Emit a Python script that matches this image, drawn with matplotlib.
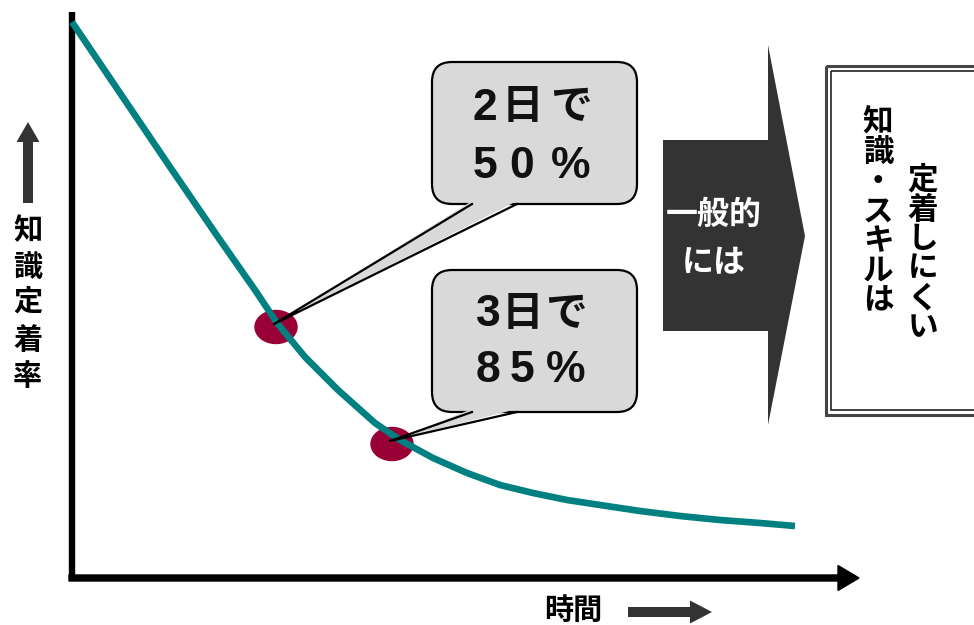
import matplotlib
matplotlib.use('Agg')
import matplotlib.pyplot as plt
from matplotlib.patches import Ellipse, Polygon, FancyBboxPatch, FancyArrow, Rectangle

plt.rcParams['font.family'] = ['Noto Sans CJK JP', 'DejaVu Sans']

# forgetting curve (canvas pixel units, y grows downward)
curve_x = [72, 120, 170, 220, 255, 277, 305, 338, 375, 400, 433, 467, 500, 533,
           567, 600, 640, 680, 720, 760, 795]
curve_y = [22, 93, 167, 240, 290, 323, 357, 390, 423, 440, 458, 473, 485, 493,
           500, 505, 511, 516, 520, 523, 526]

# highlighted points on the curve
point_x = [276, 392]
point_y = [327, 444]

# callouts
callout_lines = [['2日で', '50%'], ['3日で', '85%']]
y_label = '知識定着率'
x_label = '時間'
arrow_text = ['一般的', 'には']
box_columns = ['知識・スキルは', '定着しにくい']

TEAL = '#008080'
MAROON = '#990036'
DARK = '#333333'
GRAY = '#d9d9d9'

fig = plt.figure(figsize=(9.74, 6.25), dpi=100)
ax = fig.add_axes([0, 0, 1, 1])
ax.set_xlim(0, 974)
ax.set_ylim(625, 0)
ax.axis('off')

# axes lines
ax.plot([72, 72], [12, 580], color='black', lw=4.6, solid_capstyle='butt')
ax.add_patch(FancyArrow(69, 578, 790, 0, width=6, head_width=25, head_length=21,
                        length_includes_head=True, color='black'))

# y label with arrow
ax.add_patch(FancyArrow(28, 203, 0, -81, width=10, head_width=23, head_length=20,
                        length_includes_head=True, color=DARK, lw=0))
for i, ch in enumerate(y_label):
    ax.text(28, 230 + i * 36.5, ch, ha='center', va='center', fontsize=21,
            fontweight='bold', color='black')

# x label with arrow
ax.text(573, 610, x_label, ha='center', va='center', fontsize=21,
        fontweight='bold', color='black')
ax.add_patch(FancyArrow(628, 612, 84, 0, width=10, head_width=23, head_length=22,
                        length_includes_head=True, color=DARK, lw=0))

# the curve
ax.plot(curve_x, curve_y, color=TEAL, lw=4.8, solid_capstyle='butt',
        solid_joinstyle='round', zorder=3)

# points
for px, py in zip(point_x, point_y):
    ax.add_patch(Ellipse((px, py), 42, 33, color=MAROON, zorder=2))

# callout boxes with tails pointing at the points
box_tops = [62, 270]
box_h = [142, 142]
row_y = [[107, 165], [314, 370]]
char_x = [[485, 522, 571], [488, 522, 566]]
for k in range(2):
    top = box_tops[k]
    bottom = top + box_h[k]
    ax.add_patch(FancyBboxPatch((432, top), 205, box_h[k],
                                boxstyle='round,pad=0,rounding_size=20',
                                fc=GRAY, ec='black', lw=1.6, zorder=4))
    tip = (point_x[k] - 2, point_y[k] - 3)
    ax.add_patch(Polygon([(472, bottom - 3), (517, bottom - 3), tip],
                         closed=True, fc=GRAY, ec='none', zorder=5))
    ax.plot([472, tip[0], 517], [bottom, tip[1], bottom], color='black',
            lw=1.6, zorder=5)
    for r, line in enumerate(callout_lines[k]):
        for c, ch in enumerate(line):
            if ch.isascii():
                # wider latin digits, closer to the original
                ax.text(char_x[k][c], row_y[k][r] + 1, ch, ha='center', va='center',
                        fontsize=32, fontweight='bold', family=['Liberation Sans'],
                        color='#111111', zorder=6)
            else:
                ax.text(char_x[k][c], row_y[k][r], ch, ha='center', va='center',
                        fontsize=30, fontweight='bold', color='#111111', zorder=6)

# block arrow
ax.add_patch(Polygon([(663, 140), (768, 140), (768, 45), (805, 236),
                      (768, 425), (768, 331), (663, 331)],
                     closed=True, fc=DARK, ec='none'))
for i, line in enumerate(arrow_text):
    ax.text(714, 215 + i * 48, line, ha='center', va='center', fontsize=23,
            fontweight='bold', color='white')

# double-bordered box
ax.add_patch(Rectangle((826, 66), 200, 349, fill=False, ec='#444444', lw=2.2))
ax.add_patch(Rectangle((831, 71), 200, 339, fill=False, ec='#222222', lw=1.2))
col_x = [878, 923]
col_start = [123, 180]
for j, text in enumerate(box_columns):
    for i, ch in enumerate(text):
        ax.text(col_x[j], col_start[j] + i * 29.5, ch, ha='center', va='center',
                fontsize=22, fontweight='bold', color='black')

fig.savefig('out.png', dpi=100, facecolor='white')
plt.close(fig)
